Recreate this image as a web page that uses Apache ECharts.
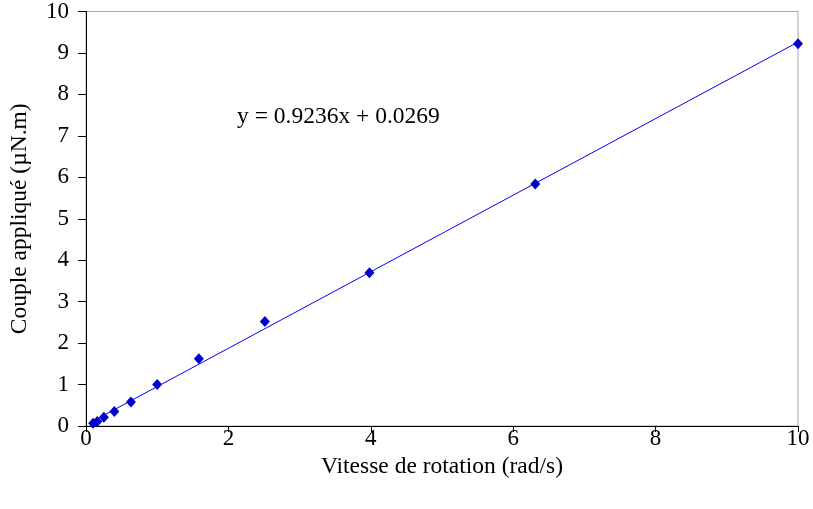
<!DOCTYPE html>
<html>
<head>
<meta charset="utf-8">
<script src="https://cdn.jsdelivr.net/npm/echarts@6/dist/echarts.min.js"></script>
<style>html,body{margin:0;padding:0;background:#fff;}#c{width:813px;height:509px;}</style>
</head>
<body>
<div id="c"></div>
<script>
var vitesse = [0.1, 0.158, 0.251, 0.398, 0.631, 1.0, 1.585, 2.512, 3.981, 6.31, 10.0];
var couple  = [0.065, 0.11, 0.21, 0.35, 0.58, 1.0, 1.62, 2.52, 3.70, 5.84, 9.22];
var slope = 0.9236, intercept = 0.0269;
var equationText = 'y = 0.9236x + 0.0269';
var xName = 'Vitesse de rotation (rad/s)';
var yName = 'Couple appliqué (µN.m)';

var pts = vitesse.map(function(v, i){ return [v, couple[i]]; });
var xmin = vitesse[0], xmax = vitesse[vitesse.length-1];
var trend = [[xmin, slope*xmin+intercept],[xmax, slope*xmax+intercept]];

var font = 'Liberation Serif';
var fs = 23;
var fsTitle = 23.5;
var chart = echarts.init(document.getElementById('c'));
chart.setOption({
  animation:false,
  backgroundColor:'#fff',
  grid:{left:86, top:11, right:15, bottom:83, show:true, borderColor:'#a6a6a6', borderWidth:1, backgroundColor:'transparent'},
  xAxis:{type:'value', min:0, max:10, interval:2,
    name:xName, nameLocation:'middle', nameGap:27,
    nameTextStyle:{fontFamily:font, fontSize:fsTitle, color:'#000'},
    axisLine:{show:true, onZero:false, lineStyle:{color:'#000', width:1}},
    axisTick:{show:true, inside:false, length:6, lineStyle:{color:'#000'}},
    axisLabel:{fontFamily:font, fontSize:fs, color:'#000', margin:1},
    splitLine:{show:false}},
  yAxis:{type:'value', min:0, max:10, interval:1,
    name:yName, nameLocation:'middle', nameGap:54, nameRotate:90,
    nameTextStyle:{fontFamily:font, fontSize:fsTitle, color:'#000'},
    axisLine:{show:true, onZero:false, lineStyle:{color:'#000', width:1}},
    axisTick:{show:true, inside:false, length:8, lineStyle:{color:'#000'}},
    axisLabel:{fontFamily:font, fontSize:fs, color:'#000', margin:17},
    splitLine:{show:false}},
  series:[
    {type:'line', data:trend, symbol:'none', lineStyle:{color:'#0000ff', width:1}, z:2, silent:true},
    {type:'scatter', data:pts, symbol:'diamond', symbolSize:[10,11], itemStyle:{color:'#0000cc', opacity:1}, z:3}
  ],
  graphic:[{type:'text', left:237, top:105, style:{text:equationText, font:'23.5px "Liberation Serif"', fill:'#000'}}]
});
</script>
</body>
</html>
